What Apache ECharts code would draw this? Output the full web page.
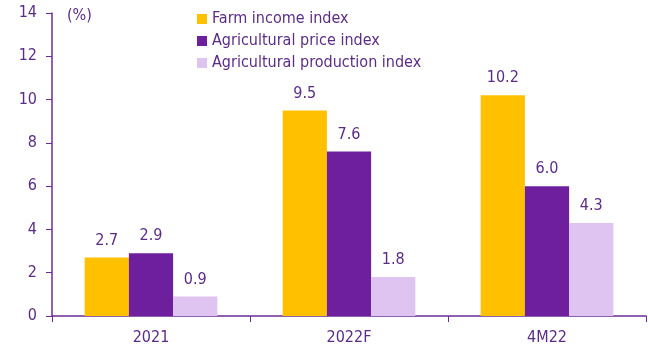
<!DOCTYPE html>
<html><head><meta charset="utf-8">
<script src="https://cdn.jsdelivr.net/npm/echarts@6/dist/echarts.min.js"></script>
<style>html,body{margin:0;padding:0;background:#fff}#c{width:648px;height:347px}</style>
</head><body><div id="c"></div>
<script>
const categories = ['2021', '2022F', '4M22'];
const farmIncome = [2.7, 9.5, 10.2];
const agriPrice = [2.9, 7.6, 6.0];
const agriProduction = [0.9, 1.8, 4.3];
const seriesNames = ['Farm income index', 'Agricultural price index', 'Agricultural production index'];
const colors = ['#FFC000', '#6E1F9E', '#DFC3F0'];
const txt = '#5B2C86';
const font = 'DejaVu Sans Condensed';
const fs = 16;
const chart = echarts.init(document.getElementById('c'));
const mk = (name, data, color) => ({
  name, type: 'bar', data, barGap: '0%', barCategoryGap: '33%',
  itemStyle: { color },
  label: { show: true, position: 'top', distance: 9, color: txt, fontFamily: font, fontSize: fs,
    formatter: p => p.value.toFixed(1) }
});
chart.setOption({
  animation: false,
  textStyle: { fontFamily: font },
  grid: { left: 52, right: 2, top: 13, bottom: 31 },
  legend: {
    orient: 'vertical', left: 192, top: 6, itemWidth: 10, itemHeight: 10, itemGap: 6,
    icon: 'rect',
    textStyle: { color: txt, fontFamily: font, fontSize: fs, padding: [0, 0, 0, 0] },
    data: seriesNames
  },
  graphic: [{ type: 'text', left: 67, top: 8, style: { text: '(%)', fill: txt, font: fs + 'px "DejaVu Sans Condensed"' } }],
  xAxis: {
    type: 'category', data: categories,
    axisLine: { lineStyle: { color: '#6E2B96', width: 1.5 } },
    axisTick: { show: true, length: 6, lineStyle: { color: '#6E2B96' } },
    axisLabel: { color: txt, fontFamily: font, fontSize: fs, margin: 14 }
  },
  yAxis: {
    type: 'value', min: 0, max: 14, interval: 2,
    axisLine: { show: true, lineStyle: { color: '#6E2B96', width: 1.5 } },
    axisTick: { show: true, length: 6, lineStyle: { color: '#6E2B96' } },
    splitLine: { show: false },
    axisLabel: { color: txt, fontFamily: font, fontSize: fs, margin: 15 }
  },
  series: [
    mk(seriesNames[0], farmIncome, colors[0]),
    mk(seriesNames[1], agriPrice, colors[1]),
    mk(seriesNames[2], agriProduction, colors[2])
  ]
});
</script></body></html>
